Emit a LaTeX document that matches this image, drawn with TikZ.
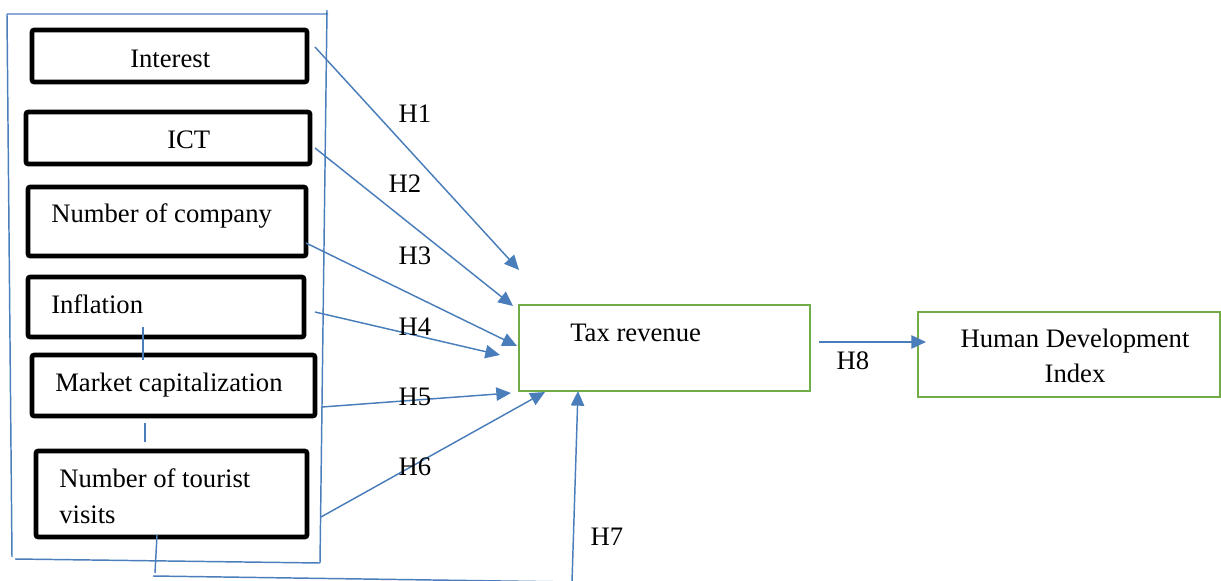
\documentclass[tikz,border=0pt]{standalone}
\usepackage{fontspec}
\setmainfont{Liberation Serif}
\usetikzlibrary{arrows.meta,fit}
\definecolor{lblue}{HTML}{4A7EBB}
\definecolor{lgreen}{HTML}{70AD47}
\begin{document}
\begin{tikzpicture}[x=0.75pt,y=-0.75pt,
  font=\fontsize{20}{24}\selectfont,
  varbox/.style={draw=black,line width=3.4pt,rounded corners=1.5pt,inner sep=0pt},
  greenbox/.style={draw=lgreen,line width=1.9pt,inner sep=0pt},
  lbl/.style={inner sep=0pt},
  link/.style={draw=lblue,line width=1.1pt},
  arr/.style={link,-{Triangle[length=11pt,width=10pt]}},
]
\useasboundingbox (0,0) rectangle (1221,581);
% hand-drawn panel
\draw[link] (7,14) -- (328,14) (327,10) -- (320,563) (15,559) -- (320,563) (7,14) -- (12,557);
% variable boxes
\node[varbox,fit={(32,30)(307,82)}] (b1) {};
\node[varbox,fit={(26,112)(310,164)}] (b2) {};
\node[varbox,fit={(28,187)(306,256)}] (b3) {};
\node[varbox,fit={(28,277)(304,337)}] (b4) {};
\node[varbox,fit={(32,355)(315,416)}] (b5) {};
\node[varbox,fit={(36,451)(307,537)}] (b6) {};
\node[lbl,anchor=base west] (t1) at (130,68) {Interest};
\node[lbl,anchor=base west] (t2) at (167,149) {ICT};
\node[lbl,anchor=base west] (t3) at (51,223) {Number of company};
\node[lbl,anchor=base west] (t4) at (51,313) {Inflation};
\node[lbl,anchor=base west] (t5) at (55,391) {Market capitalization};
\node[lbl,anchor=base west] (t6a) at (59,487) {Number of tourist};
\node[lbl,anchor=base west] (t6b) at (59,523) {visits};
% outcome boxes
\node[greenbox,fit={(519,305)(810,391)}] (tax) {};
\node[lbl,anchor=base west] (taxt) at (570,341) {Tax revenue};
\node[greenbox,fit={(918,312)(1220,397)}] (hdi) {};
\node[lbl,anchor=base] (hdia) at (1075,347) {Human Development};
\node[lbl,anchor=base] (hdib) at (1075,382) {Index};
% small connector marks
\coordinate (m1a) at (143,327); \coordinate (m1b) at (143,360);
\coordinate (m2a) at (145,423); \coordinate (m2b) at (145,442);
\draw[link] (m1a) -- (m1b);
\draw[link] (m2a) -- (m2b);
% arrow endpoints
\coordinate (s1) at (315,47);  \coordinate (e1) at (519,270);
\coordinate (s2) at (315,148); \coordinate (e2) at (513,306);
\coordinate (s3) at (306,243); \coordinate (e3) at (517,346);
\coordinate (s4) at (315,312); \coordinate (e4) at (500,355);
\coordinate (s5) at (322,407); \coordinate (e5) at (511,393);
\coordinate (s6) at (321,517); \coordinate (e6) at (545,392);
\coordinate (s7) at (572,582); \coordinate (e7) at (578,391);
\coordinate (s8) at (819,342); \coordinate (e8) at (926,342);
\coordinate (v1) at (157,535); \coordinate (v2) at (155,573);
\coordinate (w1) at (153,576); \coordinate (w2) at (572,582);
\draw[link] (v1) -- (v2);
\draw[link] (w1) -- (w2);
\draw[arr] (s1) -- (e1);
\draw[arr] (s2) -- (e2);
\draw[arr] (s3) -- (e3);
\draw[arr] (s4) -- (e4);
\draw[arr] (s5) -- (e5);
\draw[arr] (s6) -- (e6);
\draw[arr] (s7) -- (e7);
\draw[arr] (s8) -- (e8);
% labels
\node[lbl] (h1) at (415,114) {H1};
\node[lbl] (h2) at (405,184) {H2};
\node[lbl] (h3) at (415,256) {H3};
\node[lbl] (h4) at (415,327) {H4};
\node[lbl] (h5) at (415,397) {H5};
\node[lbl] (h6) at (415,467) {H6};
\node[lbl] (h7) at (607,537) {H7};
\node[lbl] (h8) at (853,361) {H8};
\end{tikzpicture}
\end{document}
